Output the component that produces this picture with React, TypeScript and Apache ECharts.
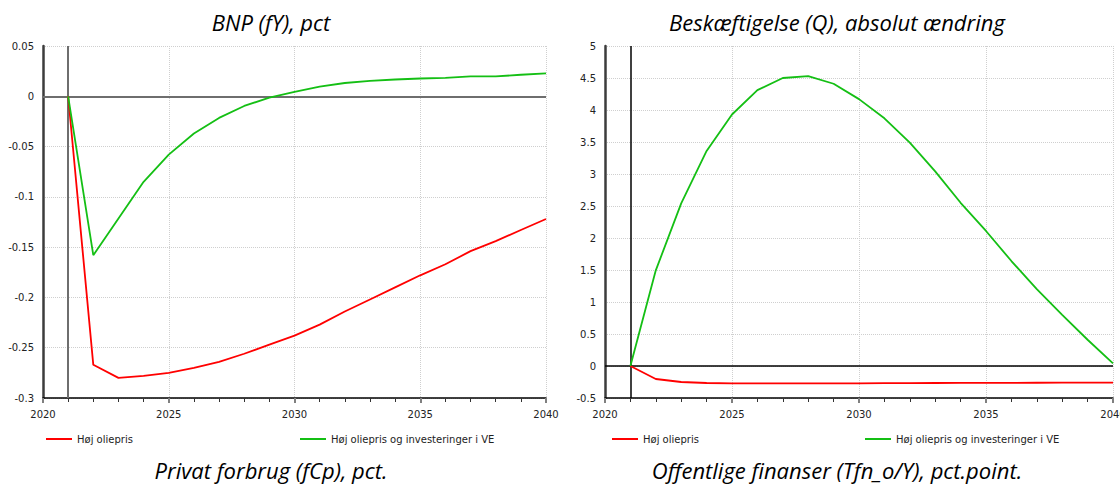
import React, { useEffect, useRef } from "react";
import * as echarts from "echarts";

// ---------- data ----------
const years = [2021, 2022, 2023, 2024, 2025, 2026, 2027, 2028, 2029, 2030, 2031, 2032, 2033, 2034, 2035, 2036, 2037, 2038, 2039, 2040];
const seriesNames = ["Høj oliepris", "Høj oliepris og investeringer i VE"];

// BNP (fY), pct
const bnpHoj = [0, -0.267, -0.28, -0.278, -0.275, -0.27, -0.264, -0.256, -0.247, -0.238, -0.227, -0.214, -0.202, -0.19, -0.178, -0.167, -0.154, -0.144, -0.133, -0.122];
const bnpVE = [0, -0.158, -0.1215, -0.085, -0.058, -0.037, -0.0215, -0.0096, -0.0013, 0.0043, 0.0096, 0.0132, 0.0154, 0.0167, 0.0177, 0.0184, 0.0197, 0.0197, 0.0214, 0.0227];

// Beskæftigelse (Q), absolut ændring
const beskHoj = [0, -0.203, -0.25, -0.266, -0.27, -0.27, -0.27, -0.27, -0.27, -0.27, -0.268, -0.267, -0.266, -0.265, -0.264, -0.263, -0.262, -0.261, -0.26, -0.26];
const beskVE = [0, 1.495, 2.54, 3.36, 3.93, 4.31, 4.5, 4.53, 4.41, 4.17, 3.87, 3.49, 3.04, 2.55, 2.11, 1.64, 1.2, 0.8, 0.41, 0.04];

const xMin = 2020;
const xMax = 2040;
const xStep = 5;
const shockYear = 2021;

const titlesTop = ["BNP (fY), pct", "Beskæftigelse (Q), absolut ændring"];
const titlesBottom = ["Privat forbrug (fCp), pct.", "Offentlige finanser (Tfn_o/Y), pct.point."];

const RED = "#ff0000";
const GREEN = "#14bf14";
const LABEL_FONT = "DejaVu Sans";
const TITLE_FONT = "Open Sans";

type PanelCfg = {
  hoj: number[];
  ve: number[];
  yMin: number;
  yMax: number;
  yStep: number;
  topTitle: string;
  bottomTitle: string;
  titleX: number;
  gridLeft: number;
  gridWidth: number;
  leg1: number;
  leg2: number;
  refColor: string;
  refWidth: number;
};

function buildOption(p: PanelCfg) {
  const titleStyle = {
    textAlign: "center",
    textVerticalAlign: "middle",
    fontFamily: TITLE_FONT,
    fontStyle: "italic",
    fontSize: 22,
    fill: "#000",
  };
  const legendCommon = {
    top: 434,
    padding: 0,
    icon: "rect",
    itemWidth: 26,
    itemHeight: 2,
    selectedMode: false,
    textStyle: { fontFamily: LABEL_FONT, fontSize: 10, color: "#222" },
  };
  const refLine = { color: p.refColor, width: p.refWidth, type: "solid" };
  return {
    animation: false,
    graphic: [
      { type: "text", x: p.titleX, y: 22, style: { ...titleStyle, text: p.topTitle } },
      { type: "text", x: p.titleX, y: 470, style: { ...titleStyle, text: p.bottomTitle } },
    ],
    legend: [
      { ...legendCommon, left: p.leg1, data: [seriesNames[0]] },
      { ...legendCommon, left: p.leg2, data: [seriesNames[1]] },
    ],
    grid: { left: p.gridLeft, width: p.gridWidth, top: 46, bottom: 87, containLabel: false, outerBoundsMode: "none" },
    xAxis: {
      type: "value",
      min: xMin,
      max: xMax,
      interval: xStep,
      axisLine: { show: true, onZero: false, lineStyle: { color: "#000", width: 1.5 } },
      axisTick: { show: true, length: 5, lineStyle: { color: "#808080", width: 2 } },
      minorTick: { show: true, splitNumber: 5, length: 4, lineStyle: { color: "#333", width: 1 } },
      axisLabel: {
        fontFamily: LABEL_FONT,
        fontSize: 10,
        color: "#222",
        margin: 11,
        hideOverlap: false,
        formatter: (v: number) => String(v),
      },
      splitLine: { show: true, lineStyle: { type: "dotted", color: "#cfcfcf", width: 1 } },
      minorSplitLine: { show: false },
    },
    yAxis: {
      type: "value",
      min: p.yMin,
      max: p.yMax,
      interval: p.yStep,
      axisLine: { show: true, onZero: false, lineStyle: { color: "#3c3c3c", width: 2.5 } },
      axisTick: { show: false },
      axisLabel: { fontFamily: LABEL_FONT, fontSize: 10, color: "#222", margin: 9 },
      splitLine: { show: true, lineStyle: { type: "dotted", color: "#cfcfcf", width: 1 } },
    },
    series: [
      {
        name: seriesNames[0],
        type: "line",
        symbol: "none",
        showSymbol: false,
        color: RED,
        lineStyle: { color: RED, width: 1.8 },
        data: years.map((y, i) => [y, p.hoj[i]]),
        markLine: {
          silent: true,
          symbol: ["none", "none"],
          label: { show: false },
          lineStyle: refLine,
          emphasis: { disabled: true },
          data: [{ xAxis: shockYear }, { yAxis: 0 }],
          z: 1,
        },
        z: 3,
      },
      {
        name: seriesNames[1],
        type: "line",
        symbol: "none",
        showSymbol: false,
        color: GREEN,
        lineStyle: { color: GREEN, width: 1.8 },
        data: years.map((y, i) => [y, p.ve[i]]),
        z: 3,
      },
    ],
  };
}

const panels: PanelCfg[] = [
  {
    hoj: bnpHoj,
    ve: bnpVE,
    yMin: -0.3,
    yMax: 0.05,
    yStep: 0.05,
    topTitle: titlesTop[0],
    bottomTitle: titlesBottom[0],
    titleX: 271,
    gridLeft: 43,
    gridWidth: 503,
    leg1: 46,
    leg2: 300,
    refColor: "#6e6e6e",
    refWidth: 2,
  },
  {
    hoj: beskHoj,
    ve: beskVE,
    yMin: -0.5,
    yMax: 5,
    yStep: 0.5,
    topTitle: titlesTop[1],
    bottomTitle: titlesBottom[1],
    titleX: 277,
    gridLeft: 45,
    gridWidth: 508,
    leg1: 52,
    leg2: 305,
    refColor: "#000",
    refWidth: 1.5,
  },
];

function Panel({ cfg, left }: { cfg: PanelCfg; left: number }) {
  const ref = useRef<HTMLDivElement>(null);
  useEffect(() => {
    if (!ref.current) return;
    const chart = echarts.init(ref.current, null, { renderer: "svg" });
    chart.setOption(buildOption(cfg) as any);
    return () => chart.dispose();
  }, [cfg]);
  return (
    <div
      ref={ref}
      style={{ position: "absolute", left, top: 0, width: 560, height: 485, overflow: "hidden" }}
    />
  );
}

export default function App() {
  return (
    <div style={{ position: "absolute", left: 0, top: 0, width: 1120, height: 485, background: "#fff", overflow: "hidden" }}>
      <Panel cfg={panels[0]} left={0} />
      <Panel cfg={panels[1]} left={560} />
    </div>
  );
}
